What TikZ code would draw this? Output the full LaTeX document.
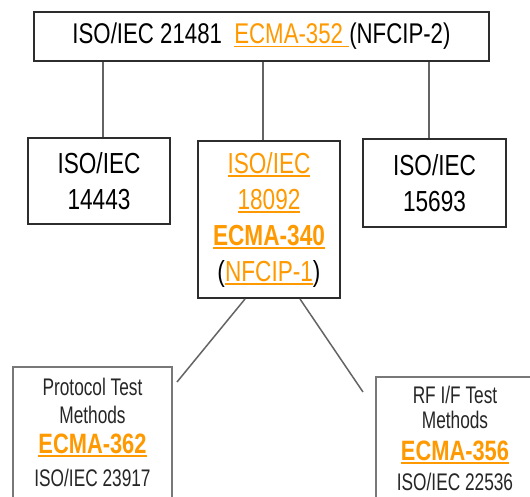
\documentclass[tikz,border=0pt]{standalone}
\usepackage{fontspec}
\setmainfont{Liberation Sans}[FakeStretch=0.78]
\newfontfamily\narrowsans{Liberation Sans}[FakeStretch=0.72]
\usetikzlibrary{calc}
\definecolor{ecma}{RGB}{255,153,0}
\definecolor{boxline}{RGB}{45,45,45}
\definecolor{lightbox}{RGB}{120,120,120}
\definecolor{conn}{RGB}{100,100,100}
\newcommand\myul[1]{\setbox0\hbox{#1}\rlap{\rule[-3.5pt]{\wd0}{1.6pt}}\box0}
\tikzset{
  x=1pt,y=-1pt,
  mainbox/.style={draw=boxline,line width=2pt,inner sep=0pt,align=center},
  testbox/.style={draw=lightbox,line width=1.5pt,inner sep=0pt},
  conline/.style={draw=conn,line width=1.5pt},
  midtext/.style={font=\fontsize{29}{36}\selectfont,align=center},
  smalltext/.style={font=\narrowsans\fontsize{24}{28}\selectfont,inner sep=0pt,text=black!85},
  bigtext/.style={font=\fontsize{28}{32}\selectfont\bfseries,inner sep=0pt,text=ecma}
}
\begin{document}
\begin{tikzpicture}
\useasboundingbox (0,0) rectangle (530,496);
\clip (0,0) rectangle (530,496);
\fill[white] (0,0) rectangle (530,496);

\node[mainbox,minimum width=455,minimum height=49,font=\fontsize{28.5}{32}\selectfont] (top) at (261.5,36.5)
  {ISO/IEC 21481\ \ {\color{ecma}\myul{ECMA-352\ }}(NFCIP-2)};

\node[mainbox,midtext,minimum width=142,minimum height=86] (left) at (99,181)
  {ISO/IEC\\14443};
\node[mainbox,midtext,minimum width=142,minimum height=157] (mid) at (269,219.5)
  {{\color{ecma}\myul{ISO/IEC}}\\{\color{ecma}\myul{18092}}\\{\color{ecma}\bfseries\myul{ECMA-340}}\\({\color{ecma}\myul{NFCIP-1}})};
\node[mainbox,midtext,minimum width=143,minimum height=88] (right) at (434.5,183)
  {ISO/IEC\\15693};

% bottom boxes
\node[testbox,minimum width=159,minimum height=143] (bl) at (92.5,438.5) {};
\node[smalltext] (bl1) at (92.5,387) {Protocol Test};
\node[smalltext] (bl2) at (92.5,415) {Methods};
\node[bigtext] (bl3) at (92.5,445) {\myul{ECMA-362}};
\node[smalltext] (bl4) at (92.5,478) {ISO/IEC 23917};

\node[testbox,minimum width=158,minimum height=143] (br) at (455,448.5) {};
\node[smalltext] (br1) at (455,395) {RF I/F Test};
\node[smalltext] (br2) at (455,420) {Methods};
\node[bigtext] (br3) at (455,452) {\myul{ECMA-356}};
\node[smalltext] (br4) at (455,481.5) {ISO/IEC 22536};

% connectors
\draw[conline] ([xshift=4]top.south -| left.north) -- ([xshift=4]left.north);
\draw[conline] ([xshift=-6]top.south -| mid.north) -- ([xshift=-6]mid.north);
\draw[conline] ([xshift=-5.5]top.south -| right.north) -- ([xshift=-5.5]right.north);

\coordinate (blend) at (177,382);
\coordinate (brend) at (363,392);
\draw[conline] ([xshift=-24]mid.south) -- (blend);
\draw[conline] ([xshift=31]mid.south) -- (brend);
\end{tikzpicture}
\end{document}
